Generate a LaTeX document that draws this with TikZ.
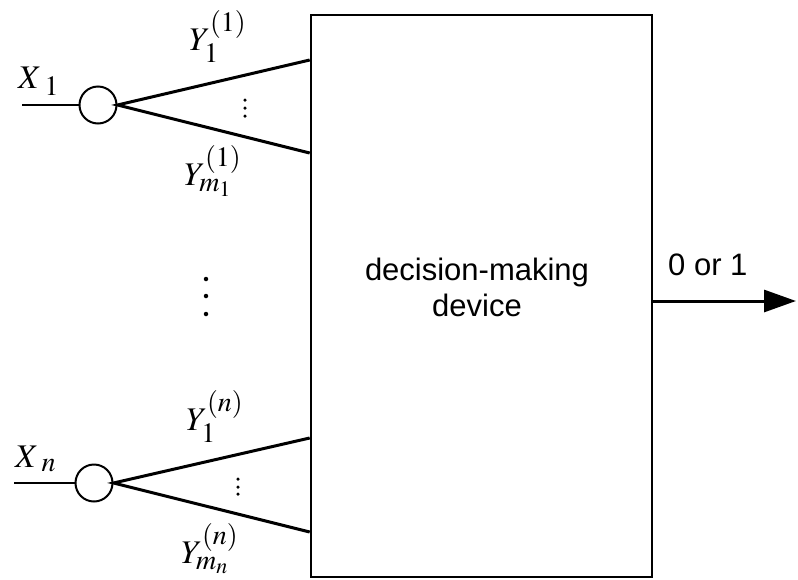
\documentclass[tikz,border=0pt]{standalone}
\usepackage{mathptmx}
\usepackage[no-math]{fontspec}
\setsansfont{Liberation Sans}
\DeclareMathSizes{33}{33}{28}{22}
\usetikzlibrary{arrows.meta}
\tikzset{
  mathlbl/.style={anchor=base west, inner sep=0pt, font=\fontsize{33}{38}\selectfont},
  txtlbl/.style={inner sep=0pt, font=\sffamily\fontsize{31}{36}\selectfont, align=center},
  node circ/.style={circle, draw, line width=2pt, minimum size=37pt, inner sep=0pt},
  inline/.style={line width=2.2pt},
  branch/.style={line width=3pt},
  boxstyle/.style={draw, line width=2.6pt, rectangle, minimum width=341pt, minimum height=562pt, inner sep=0pt},
  dotm/.style={fill, circle, inner sep=0pt, minimum size=3.5pt},
  dotl/.style={fill, circle, inner sep=0pt, minimum size=4.5pt},
}
\begin{document}
\begin{tikzpicture}[x=1pt,y=-1pt]
\useasboundingbox (0,0) rectangle (798,579);
% box
\node[boxstyle] (dev) at (481.5,296) {};
\node[txtlbl] (devtxt) at (477,287) {decision-making\\device};
% circles
\node[node circ] (c1) at (98,105) {};
\node[node circ] (cn) at (94,483) {};
% inputs
\coordinate (in1) at (22,105);
\coordinate (inn) at (14,483);
\draw[inline] (in1) -- (c1.west);
\draw[inline] (inn) -- (cn.west);
% branch endpoints
\coordinate (b1a) at (dev.west |- 0,60);
\coordinate (b1b) at (dev.west |- 0,153);
\coordinate (bna) at (dev.west |- 0,438);
\coordinate (bnb) at (dev.west |- 0,532);
\draw[branch] (b1a) -- (c1.east) -- (b1b);
\draw[branch] (bna) -- (cn.east) -- (bnb);
% output
\coordinate (out) at (796,301);
\draw[line width=3pt, -{Triangle[length=32pt,width=22pt]}] (dev.east |- out) -- (out);
\node[txtlbl, anchor=base west] (o1) at (668,275) {0 or 1};
% labels
\node[mathlbl] (x1) at (18,88) {$X_{\kern7pt 1}$};
\node[mathlbl] (xn) at (15,467) {$X_{\kern7pt n}$};
\node[mathlbl] (y11) at (189,50) {$Y_1^{(1)}$};
\node[mathlbl] (y1m) at (184,185) {$Y_{m_1}^{(1)}$};
\node[mathlbl] (yn1) at (186,430) {$Y_1^{(n)}$};
\node[mathlbl] (ynm) at (181,563) {$Y_{m_n}^{(n)}$};
% dots
\foreach \yy [count=\i] in {100,108,116} \node[dotm] (da\i) at (245,\yy) {};
\foreach \yy [count=\i] in {479,487,494} \node[dotm] (db\i) at (238,\yy) {};
\foreach \yy [count=\i] in {279,296,314} \node[dotl] (dc\i) at (206,\yy) {};
\end{tikzpicture}
\end{document}
